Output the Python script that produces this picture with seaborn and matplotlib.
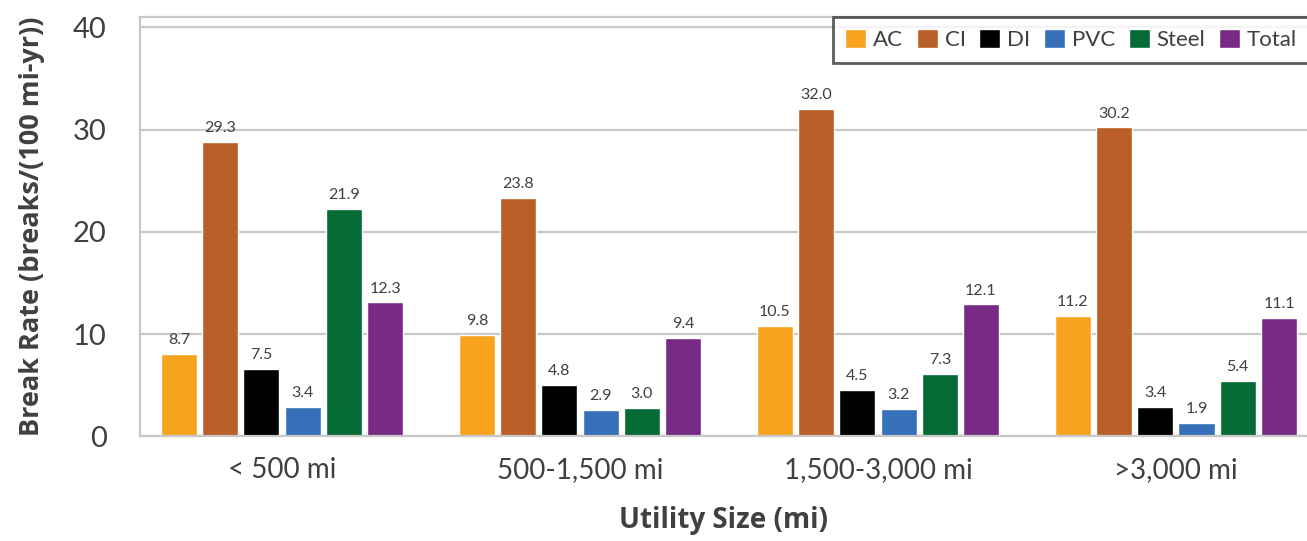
import numpy as np
import matplotlib
matplotlib.use("Agg")
import matplotlib.pyplot as plt
import seaborn as sns
import pandas as pd

sizes = ["< 500 mi", "500-1,500 mi", "1,500-3,000 mi", ">3,000 mi"]
materials = ["AC", "CI", "DI", "PVC", "Steel", "Total"]

# bar heights as drawn in the picture
ac = [8.1, 9.9, 10.8, 11.8]
ci = [28.8, 23.3, 32.0, 30.2]
di = [6.6, 5.0, 4.5, 2.9]
pvc = [2.9, 2.6, 2.7, 1.3]
steel = [22.2, 2.8, 6.1, 5.4]
total = [13.1, 9.6, 12.9, 11.6]

# printed value labels
ac_lbl = [8.7, 9.8, 10.5, 11.2]
ci_lbl = [29.3, 23.8, 32.0, 30.2]
di_lbl = [7.5, 4.8, 4.5, 3.4]
pvc_lbl = [3.4, 2.9, 3.2, 1.9]
steel_lbl = [21.9, 3.0, 7.3, 5.4]
total_lbl = [12.3, 9.4, 12.1, 11.1]

colors = ["#F8A31E", "#B95F27", "#000000", "#3570B8", "#036B33", "#772A83"]

heights = [ac, ci, di, pvc, steel, total]
labels = [ac_lbl, ci_lbl, di_lbl, pvc_lbl, steel_lbl, total_lbl]

rows = []
for m, vals in zip(materials, heights):
    for s, v in zip(sizes, vals):
        rows.append({"size": s, "material": m, "rate": v})
df = pd.DataFrame(rows)

sns.set_style("white")
plt.rcParams["font.family"] = ["Lato", "DejaVu Sans"]
txt = "#404040"

fig = plt.figure(figsize=(13.07, 5.41), dpi=100)
ax = fig.add_axes([140 / 1307, 0.1932, 1 - 140 / 1307, 0.9686 - 0.1932])

sns.barplot(data=df, x="size", y="rate", hue="material", order=sizes,
            hue_order=materials, palette=colors, width=0.83, gap=0.126,
            saturation=1, errorbar=None, ax=ax)

for cont, lbls in zip(ax.containers, labels):
    for bar, l in zip(cont, lbls):
        ax.annotate(f"{l:.1f}", (bar.get_x() + bar.get_width() / 2, bar.get_height()),
                    xytext=(0, 5), textcoords="offset points", ha="center",
                    va="bottom", fontsize=11.5, color=txt)

ax.set_xlim(-0.4765, 3.44)
ax.set_ylim(0, 41)
ax.set_yticks([0, 10, 20, 30, 40])
ax.tick_params(axis="y", labelsize=21, colors=txt, length=0, pad=24)
ax.tick_params(axis="x", labelsize=20, colors=txt, length=0, pad=15)
ax.grid(axis="y", color="#c8c8c8", linewidth=1.6)
ax.set_axisbelow(True)
for sp in ["left", "top", "bottom"]:
    ax.spines[sp].set_color("#c8c8c8")
    ax.spines[sp].set_linewidth(1.6)
ax.spines["right"].set_visible(False)

bold = ["Open Sans", "DejaVu Sans"]
ax.set_xlabel("Utility Size (mi)", fontsize=20, fontweight="bold", color=txt,
              labelpad=16, family=bold)
ax.set_ylabel("Break Rate (breaks/(100 mi-yr))", fontsize=19.5, fontweight="bold",
              color=txt, labelpad=20, family=bold)

leg = ax.legend(loc="upper left", bbox_to_anchor=(833 / 1307, 1 - 17 / 541),
                bbox_transform=fig.transFigure, ncol=6, frameon=True, fontsize=16,
                handlelength=0.95, handleheight=0.95, handletextpad=0.3,
                columnspacing=0.62, borderaxespad=0, borderpad=0.55, fancybox=False)
leg.get_frame().set_edgecolor("#333333")
leg.get_frame().set_linewidth(2)
for t in leg.get_texts():
    t.set_color(txt)
leg.set_title(None)

fig.savefig("out.png", dpi=100)
